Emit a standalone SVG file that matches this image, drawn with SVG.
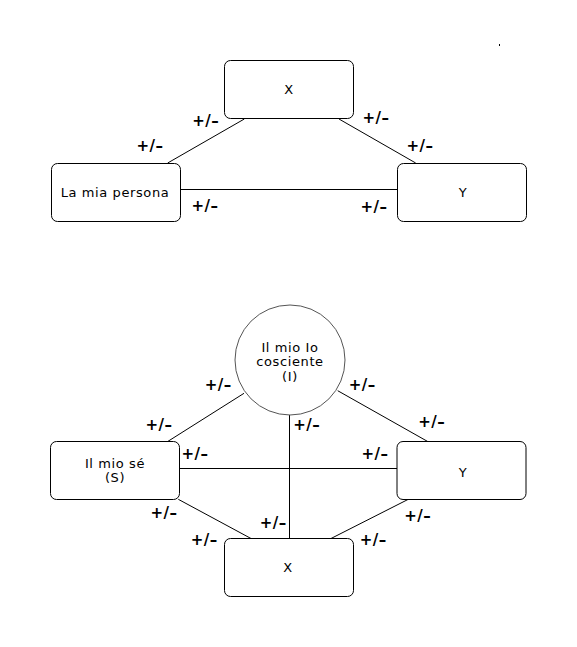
<svg xmlns="http://www.w3.org/2000/svg" width="577" height="647" viewBox="0 0 577 647">
<style>
.box{fill:#fff;stroke:#000;stroke-width:1}
.circ{fill:#fff;stroke:#555;stroke-width:1}
.ln{stroke:#000;stroke-width:1;fill:none}
.t{font-family:"DejaVu Sans",Verdana,sans-serif;font-size:13px;letter-spacing:0.6px;text-anchor:middle;fill:#000}
.pm{font-family:"DejaVu Sans",Verdana,sans-serif;font-size:15px;font-weight:bold;letter-spacing:0.5px;text-anchor:middle;fill:#000}
</style>
<rect width="577" height="647" fill="#fff"/>
<rect x="499" y="44" width="1" height="2" fill="#000"/>
<g id="connectors">
<line class="ln" x1="167.7" y1="163" x2="244.3" y2="119"/>
<line class="ln" x1="339" y1="119" x2="415.7" y2="163"/>
<line class="ln" x1="180.5" y1="189.5" x2="397.5" y2="189.5"/>
<line class="ln" x1="244" y1="393.3" x2="167.7" y2="441.5"/>
<line class="ln" x1="337.7" y1="390.7" x2="427.7" y2="441.5"/>
<line class="ln" x1="289.5" y1="414.5" x2="289.5" y2="538.5"/>
<line class="ln" x1="179.5" y1="468.5" x2="397" y2="468.5"/>
<line class="ln" x1="178.3" y1="499.3" x2="251" y2="538.5"/>
<line class="ln" x1="408.3" y1="499.3" x2="331" y2="538.5"/>
</g>
<g id="top-X"><rect class="box" x="224.5" y="60.5" width="129" height="58" rx="6"/><text class="t" x="289" y="94">X</text></g>
<g id="top-persona"><rect class="box" x="51.5" y="163.5" width="129" height="58" rx="6"/><text class="t" x="115" y="196.5">La mia persona</text></g>
<g id="top-Y"><rect class="box" x="397.5" y="163.5" width="129" height="58" rx="6"/><text class="t" x="463" y="196.5">Y</text></g>
<g id="top-labels">
<text class="pm" x="205.7" y="126">+/–</text>
<text class="pm" x="150" y="151">+/–</text>
<text class="pm" x="376" y="123">+/–</text>
<text class="pm" x="420" y="151">+/–</text>
<text class="pm" x="205" y="211">+/–</text>
<text class="pm" x="374" y="212">+/–</text>
</g>
<g id="bottom-I"><circle class="circ" cx="290" cy="360" r="55"/>
<text class="t" x="290" y="351.5">Il mio Io</text>
<text class="t" x="290" y="366">cosciente</text>
<text class="t" x="290" y="380.5">(I)</text></g>
<g id="bottom-S"><rect class="box" x="50.5" y="441.5" width="129" height="58" rx="6"/>
<text class="t" x="115" y="467.5">Il mio sé</text>
<text class="t" x="115" y="481.5">(S)</text></g>
<g id="bottom-Y"><rect class="box" x="397" y="441.5" width="129" height="58" rx="6"/><text class="t" x="463" y="476.5">Y</text></g>
<g id="bottom-X"><rect class="box" x="224.5" y="538.5" width="129" height="58" rx="6"/><text class="t" x="288" y="571.5">X</text></g>
<g id="bottom-labels">
<text class="pm" x="218.3" y="390">+/–</text>
<text class="pm" x="159" y="429.5">+/–</text>
<text class="pm" x="362.3" y="390">+/–</text>
<text class="pm" x="431.7" y="427">+/–</text>
<text class="pm" x="306.7" y="430">+/–</text>
<text class="pm" x="195" y="458.5">+/–</text>
<text class="pm" x="375" y="459">+/–</text>
<text class="pm" x="164" y="518">+/–</text>
<text class="pm" x="204.3" y="545">+/–</text>
<text class="pm" x="273.3" y="528">+/–</text>
<text class="pm" x="417.7" y="521">+/–</text>
<text class="pm" x="373.3" y="545">+/–</text>
</g>
</svg>
